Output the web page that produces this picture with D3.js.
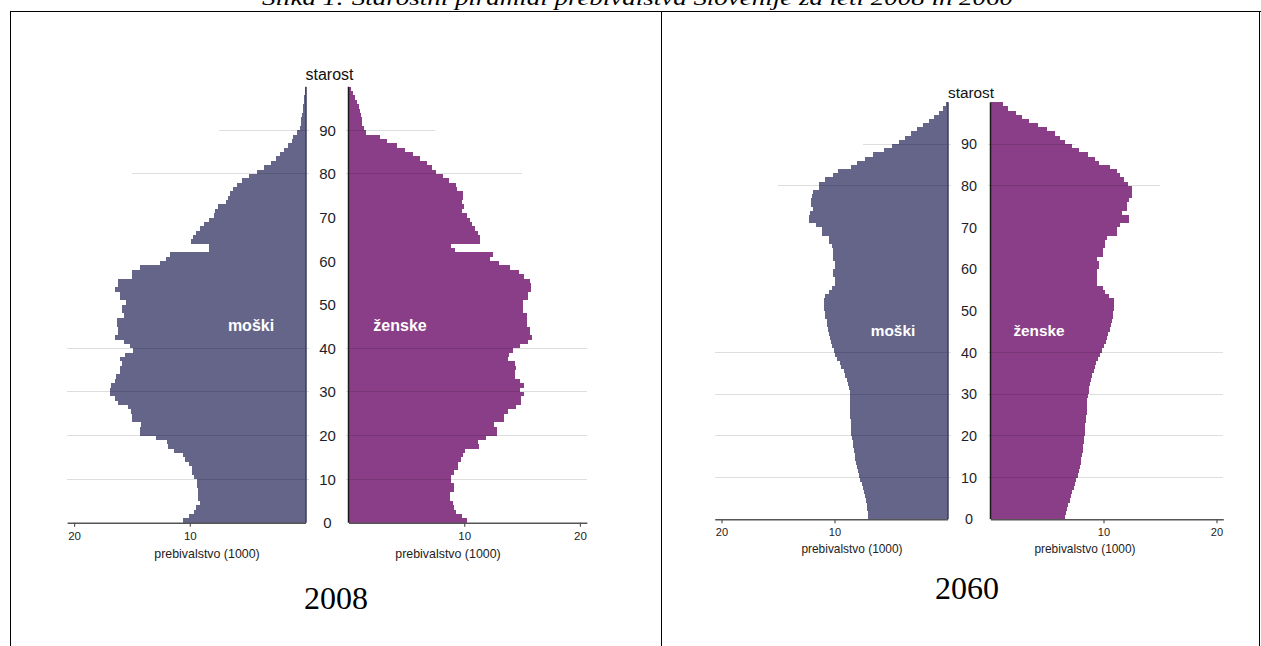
<!DOCTYPE html>
<html><head><meta charset="utf-8">
<script src="https://cdn.jsdelivr.net/npm/d3@7"></script>
<style>
body{margin:0;background:#fff;}
svg{display:block;font-family:Arial,"Liberation Sans",sans-serif;}
</style>
</head><body>
<svg id="c" width="1261" height="646"></svg>
<script>
// ---------- DATA (thousands of inhabitants by single year of age 0..99) ----------
const ages = d3.range(0, 100);
const male2008 = [10.6,10.1,9.6,9.5,9.1,9.3,9.3,9.25,9.4,9.4,
  9.6,9.8,9.85,10.1,10.4,10.6,11.4,11.9,12.0,12.9,
  14.3,14.3,14.2,15.0,15.0,15.1,15.3,16.2,16.5,16.9,
  16.9,16.8,16.5,16.4,16.0,16.0,15.9,16.0,15.6,14.9,
  15.2,15.7,16.5,16.2,16.2,16.3,16.3,15.7,15.9,15.9,
  15.5,16.0,16.0,16.5,16.2,16.2,15.0,15.0,14.3,12.6,
  12.1,11.7,8.3,8.3,9.9,9.7,9.5,9.1,8.8,8.3,
  7.9,7.8,7.6,6.9,6.7,6.5,6.3,5.95,5.5,4.85,
  4.16,3.6,3.0,2.55,2.2,1.83,1.54,1.2,1.1,0.7,
  0.45,0.4,0.35,0.3,0.25,0.2,0.15,0.1,0.07,0.04];
const female2008 = [10.2,9.8,9.3,9.1,9.0,8.8,8.8,9.1,9.1,8.9,
  8.9,9.1,9.5,9.5,9.7,9.9,10.1,11.3,11.2,11.9,
  12.8,12.8,12.6,13.4,13.4,13.8,14.5,14.9,14.9,15.2,
  14.8,15.2,14.8,14.4,14.4,14.5,14.4,13.8,13.9,14.2,
  14.8,15.5,15.9,15.7,15.7,15.4,15.4,15.4,15.1,15.1,
  15.1,15.5,15.5,15.8,15.8,15.7,15.2,14.7,14.0,13.0,
  12.2,12.5,9.2,8.9,11.4,11.4,11.2,10.9,10.7,10.5,
  10.2,9.8,10.0,9.8,9.9,9.9,9.4,9.3,8.7,8.2,
  7.6,7.2,6.8,6.2,5.6,4.9,4.2,3.3,2.7,1.5,
  1.3,1.2,1.15,1.1,1.0,0.9,0.75,0.55,0.4,0.25];
const male2060 = [7.0,7.05,7.1,7.15,7.2,7.3,7.4,7.5,7.6,7.7,
  7.8,7.9,8.0,8.1,8.15,8.2,8.3,8.35,8.4,8.45,
  8.5,8.5,8.55,8.55,8.6,8.6,8.6,8.6,8.6,8.6,
  8.6,8.7,8.8,8.85,9.1,9.2,9.4,9.55,9.8,9.95,
  10.05,10.2,10.3,10.4,10.5,10.6,10.65,10.7,10.8,10.8,
  10.9,10.9,10.9,10.8,10.5,10.25,10.0,9.96,10.1,10.1,
  9.96,9.96,10.1,10.1,10.1,10.25,10.5,10.5,11.1,11.1,
  11.6,12.3,12.3,12.2,11.9,12.1,12.1,12.0,11.9,11.4,
  11.4,10.8,10.1,9.66,8.5,8.0,7.3,6.6,5.6,4.9,
  4.3,3.8,3.2,2.67,2.14,1.6,1.2,0.72,0.4,0.15];
const female2060 = [6.6,6.7,6.8,6.9,7.0,7.1,7.2,7.35,7.5,7.6,
  7.75,7.8,7.9,8.0,8.05,8.1,8.15,8.2,8.25,8.3,
  8.35,8.4,8.4,8.45,8.45,8.5,8.5,8.55,8.55,8.6,
  8.7,8.75,8.8,8.9,9.0,9.15,9.25,9.35,9.55,9.7,
  9.9,10.05,10.2,10.3,10.4,10.55,10.65,10.75,10.8,10.85,
  10.9,10.9,10.9,10.5,10.1,9.98,9.4,9.45,9.45,9.45,
  9.63,9.63,9.45,9.98,9.98,10.1,10.1,10.3,11.2,11.2,
  11.5,12.3,12.3,11.6,12.1,12.1,12.3,12.5,12.5,12.5,
  12.2,11.8,11.5,11.2,10.6,9.63,9.25,8.66,7.86,7.2,
  6.6,6.15,5.7,5.0,4.2,3.44,2.75,2.25,1.58,1.13];
const ageTicks = d3.range(0, 100, 10);
const popTicks = [10, 20];
const gridAges = [10, 20, 30, 40, 80, 90];
const gridReach = [20.6, 20.6, 20.6, 20.6, 15, 7.5];
const years = ["2008", "2060"];
const txtAge = "starost", txtPop = "prebivalstvo (1000)", txtMale = "moški", txtFemale = "ženske";
const title = "Slika 1: Starostni piramidi prebivalstva Slovenije za leti 2008 in 2060";

// ---------- LAYOUT ----------
const svg = d3.select("#c");
const maleCol = "#65658a", femaleCol = "#8a3e88";

svg.append("text").attr("x", 637.5).attr("y", 5).attr("text-anchor", "middle")
  .attr("font-family", "'Liberation Serif','Times New Roman',serif").attr("font-style", "italic")
  .attr("font-size", 20).attr("textLength", 751).attr("lengthAdjust", "spacingAndGlyphs")
  .attr("fill", "#000").text(title);

// table frame
const frame = svg.append("g").attr("stroke", "#000").attr("stroke-width", 1.2).attr("shape-rendering", "crispEdges");
frame.append("line").attr("x1", 10).attr("x2", 1261).attr("y1", 11.5).attr("y2", 11.5);
frame.append("line").attr("x1", 10.5).attr("x2", 10.5).attr("y1", 11).attr("y2", 646);
frame.append("line").attr("x1", 661.5).attr("x2", 661.5).attr("y1", 11).attr("y2", 646);
frame.append("line").attr("x1", 1259.5).attr("x2", 1259.5).attr("y1", 11).attr("y2", 646);

const panels = [
  {male: male2008, female: female2008, year: years[0], y0: 522.7, y100: 86.7, m0: 305.5, f0: 348.5, k: 11.57,
   ageX: 327.5, starY: 80, titleXM: 207, titleXF: 448, titleY: 558, tickY: 9, fs: 1,
   mLab: [251, 331], fLab: [400, 331], yearX: 336, yearY: 609},
  {male: male2060, female: female2060, year: years[1], y0: 519.3, y100: 102.3, m0: 947.5, f0: 990.5, k: 11.3,
   ageX: 969, starY: 98, titleXM: 852, titleXF: 1085, titleY: 553, tickY: 8.5, fs: 0.96,
   mLab: [893, 336], fLab: [1039, 336], yearX: 967, yearY: 599}
];

const axisMax = 20.6;

panels.forEach(p => {
  const g = svg.append("g");
  const y = d3.scaleLinear().domain([0, 100]).range([p.y0, p.y100]);
  const xm = d3.scaleLinear().domain([0, axisMax]).range([p.m0, p.m0 - axisMax * p.k]);
  const xf = d3.scaleLinear().domain([0, axisMax]).range([p.f0, p.f0 + axisMax * p.k]);

  // bars
  g.append("g").attr("fill", maleCol).attr("shape-rendering", "crispEdges")
    .selectAll("rect").data(ages).join("rect")
    .attr("x", a => xm(p.male[a])).attr("width", a => xm(0) - xm(p.male[a]))
    .attr("y", a => y(a + 1)).attr("height", a => y(a) - y(a + 1));
  g.append("g").attr("fill", femaleCol).attr("shape-rendering", "crispEdges")
    .selectAll("rect").data(ages).join("rect")
    .attr("x", xf(0)).attr("width", a => xf(p.female[a]) - xf(0))
    .attr("y", a => y(a + 1)).attr("height", a => y(a) - y(a + 1));

  // grid lines (over bars, translucent)
  const gg = g.append("g").attr("stroke", "rgba(0,0,0,0.13)").attr("stroke-width", 1).attr("shape-rendering", "crispEdges");
  gridAges.forEach((a, i) => {
    gg.append("line").attr("x1", xm(0) + 3).attr("x2", xm(gridReach[i])).attr("y1", y(a)).attr("y2", y(a));
    gg.append("line").attr("x1", xf(0) - 3).attr("x2", xf(gridReach[i])).attr("y1", y(a)).attr("y2", y(a));
  });

  // zero lines
  g.append("line").attr("x1", xm(0) + 0.5).attr("x2", xm(0) + 0.5).attr("y1", y(0)).attr("y2", y(100))
    .attr("stroke", "#3c3c5c").attr("stroke-width", 1.5);
  g.append("line").attr("x1", xf(0)).attr("x2", xf(0)).attr("y1", y(0)).attr("y2", y(100))
    .attr("stroke", "#1a1a1a").attr("stroke-width", 1.5);

  // x axes
  const styleAxis = sel => {
    sel.select(".domain").attr("stroke", "#555").attr("stroke-width", 1.6);
    sel.selectAll(".tick line").attr("stroke", "#555").attr("stroke-width", 1.2);
    sel.selectAll(".tick text").attr("y", p.tickY).attr("fill", "#222")
      .attr("font-size", 11.5 * p.fs).attr("font-family", "Arial,'Liberation Sans',sans-serif");
  };
  g.append("g").attr("transform", `translate(0,${y(0)})`)
    .call(d3.axisBottom(xm).tickValues(popTicks).tickSize(4).tickSizeOuter(0)).call(styleAxis);
  g.append("g").attr("transform", `translate(0,${y(0)})`)
    .call(d3.axisBottom(xf).tickValues(popTicks).tickSize(4).tickSizeOuter(0)).call(styleAxis);

  // age labels
  g.append("g").selectAll("text").data(ageTicks).join("text")
    .attr("x", p.ageX).attr("y", a => y(a)).attr("dy", "0.36em").attr("text-anchor", "middle")
    .attr("font-size", 15 * p.fs).attr("fill", "#1e1e2a").text(a => a);
  g.append("text").attr("x", p.ageX + 2).attr("y", p.starY).attr("text-anchor", "middle")
    .attr("font-size", 16 * p.fs).attr("fill", "#111").text(txtAge);

  // axis titles
  [p.titleXM, p.titleXF].forEach(x => {
    g.append("text").attr("x", x).attr("y", p.titleY).attr("text-anchor", "middle")
      .attr("font-size", 12.4 * p.fs).attr("fill", "#222").text(txtPop);
  });

  // sex labels
  g.append("text").attr("x", p.mLab[0]).attr("y", p.mLab[1]).attr("text-anchor", "middle")
    .attr("font-size", 16 * p.fs).attr("font-weight", "bold").attr("fill", "#fff").text(txtMale);
  g.append("text").attr("x", p.fLab[0]).attr("y", p.fLab[1]).attr("text-anchor", "middle")
    .attr("font-size", 16 * p.fs).attr("font-weight", "bold").attr("fill", "#fff").text(txtFemale);

  // year
  g.append("text").attr("x", p.yearX).attr("y", p.yearY).attr("text-anchor", "middle")
    .attr("font-family", "'Liberation Serif','Times New Roman',serif").attr("font-size", 32)
    .attr("fill", "#000").text(p.year);
});
</script>
</body></html>
